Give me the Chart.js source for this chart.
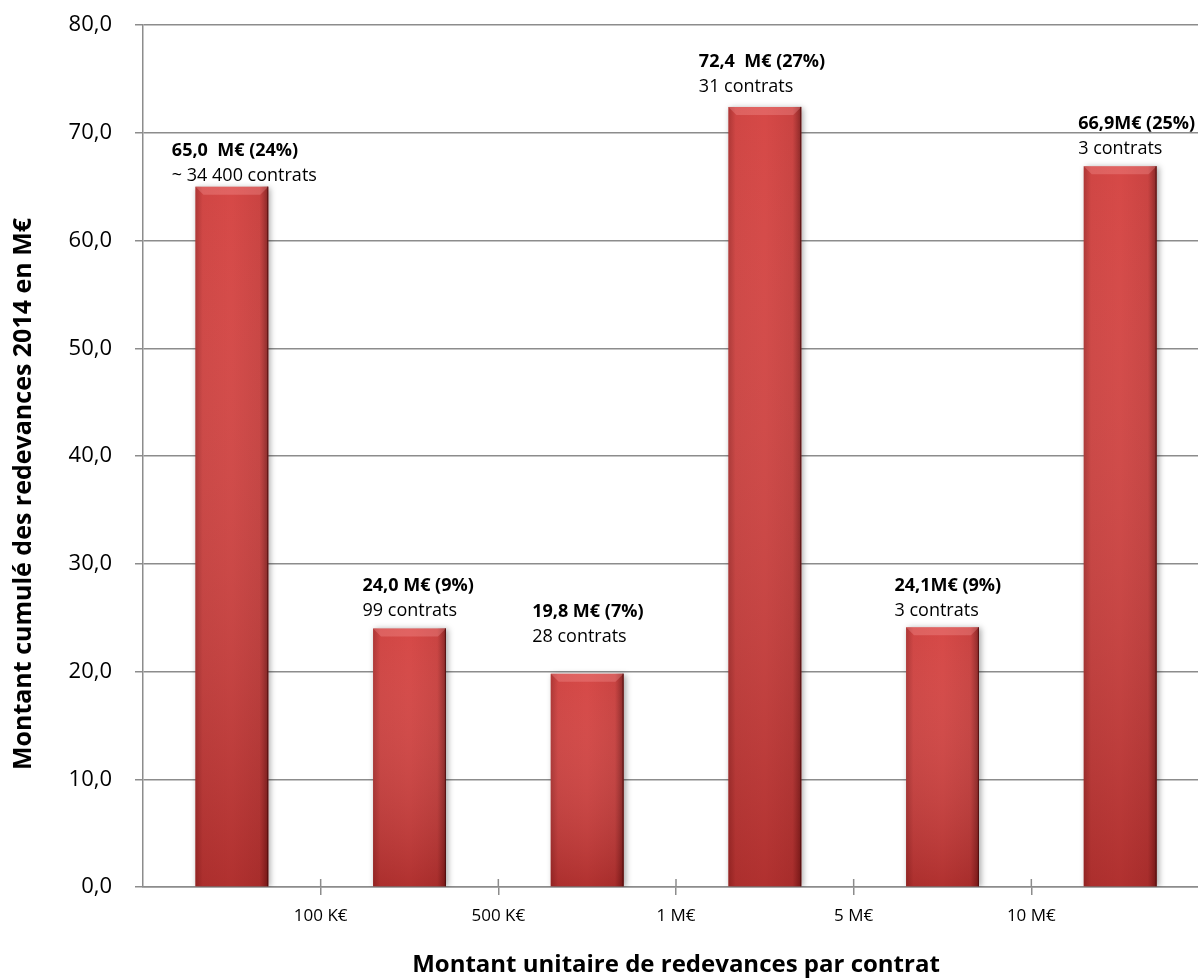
<!DOCTYPE html>
<html lang="fr">
<head>
    <meta charset="UTF-8">
    <title>Redevances 2014</title>
    <script src="https://cdn.jsdelivr.net/npm/chart.js"></script>
    <style>
body {
    margin: 0;
    padding: 0;
    background-color: #fff;
    overflow: hidden;
}

.chart-box {
    position: relative;
    width: 1220px;
    height: 980px;
}

canvas {
    display: block;
}
    </style>
</head>
<body>
    <div class="chart-box">
        <canvas id="redevancesChart" width="1220" height="980"></canvas>
    </div>

    <script>
        // Data
        const categories = ['< 100 K€', '100 K€ - 500 K€', '500 K€ - 1 M€', '1 M€ - 5 M€', '5 M€ - 10 M€', '> 10 M€'];
        const amounts = [65.0, 24.0, 19.8, 72.4, 24.1, 66.9];
        const amountLabels = ['65,0  M€ (24%)', '24,0 M€ (9%)', '19,8 M€ (7%)', '72,4  M€ (27%)', '24,1M€ (9%)', '66,9M€ (25%)'];
        const contractLabels = ['~ 34 400 contrats', '99 contrats', '28 contrats', '31 contrats', '3 contrats', '3 contrats'];
        const boundaryTicks = ['', '100 K€', '500 K€', '1 M€', '5 M€', '10 M€', ''];

        // Manual nudges of the text boxes, as placed in the original
        const labelDx = [-60, -47, -55, -66, -48, -42];
        const labelDy = [-11, -18, -37, -20, -16, -17];

        const fontFamily = "'Open Sans', sans-serif";
        const gridGrey = '#8c8c8c';

        Chart.defaults.font.family = fontFamily;
        Chart.defaults.color = '#000';

        // Shading of the bars (bevel, shadow, gradient) and the text boxes
        const barStyle = {
            id: 'barStyle',
            beforeDatasetDraw(chart) {
                const ctx = chart.ctx;
                ctx.save();
                ctx.shadowColor = 'rgba(0, 0, 0, 0.35)';
                ctx.shadowBlur = 6;
                ctx.shadowOffsetX = 2;
                ctx.shadowOffsetY = 1;
            },
            afterDatasetDraw(chart) {
                const ctx = chart.ctx;
                ctx.restore();
                const meta = chart.getDatasetMeta(0);
                meta.data.forEach((bar, i) => {
                    const left = bar.x - bar.width / 2;
                    const right = bar.x + bar.width / 2;
                    const top = bar.y;
                    const bottom = bar.base;

                    // side shading
                    const h = ctx.createLinearGradient(left, 0, right, 0);
                    h.addColorStop(0, 'rgba(90, 10, 10, 0.35)');
                    h.addColorStop(0.1, 'rgba(90, 10, 10, 0.05)');
                    h.addColorStop(0.5, 'rgba(90, 10, 10, 0)');
                    h.addColorStop(0.88, 'rgba(90, 10, 10, 0.1)');
                    h.addColorStop(1, 'rgba(60, 0, 0, 0.55)');
                    ctx.fillStyle = h;
                    ctx.fillRect(left, top, bar.width, bottom - top);

                    // darker towards the base
                    const v = ctx.createLinearGradient(0, top, 0, bottom);
                    v.addColorStop(0, 'rgba(255, 255, 255, 0.04)');
                    v.addColorStop(1, 'rgba(70, 0, 0, 0.25)');
                    ctx.fillStyle = v;
                    ctx.fillRect(left, top, bar.width, bottom - top);

                    // top bevel
                    const b = 8;
                    ctx.beginPath();
                    ctx.moveTo(left, top);
                    ctx.lineTo(right, top);
                    ctx.lineTo(right - b, top + b);
                    ctx.lineTo(left + b, top + b);
                    ctx.closePath();
                    ctx.fillStyle = 'rgba(255, 170, 170, 0.28)';
                    ctx.fill();

                    ctx.strokeStyle = 'rgba(70, 10, 10, 0.8)';
                    ctx.lineWidth = 1;
                    ctx.beginPath();
                    ctx.moveTo(right - 0.5, top);
                    ctx.lineTo(right - 0.5, bottom);
                    ctx.stroke();

                    // two-line text box
                    const tx = bar.x + labelDx[i];
                    const ty = top + labelDy[i];
                    ctx.fillStyle = '#000';
                    ctx.textAlign = 'left';
                    ctx.textBaseline = 'middle';
                    ctx.font = 'bold 18px ' + fontFamily;
                    ctx.fillText(amountLabels[i], tx, ty - 25);
                    ctx.font = '18px ' + fontFamily;
                    ctx.fillText(contractLabels[i], tx, ty);
                });
            },
            afterDraw(chart) {
                const ctx = chart.ctx;
                const x2 = chart.scales.x2;
                const area = chart.chartArea;

                // tick marks cross the category axis
                ctx.save();
                ctx.strokeStyle = gridGrey;
                ctx.lineWidth = 1.5;
                for (let k = 1; k < boundaryTicks.length - 1; k++) {
                    const px = x2.getPixelForTick(k);
                    ctx.beginPath();
                    ctx.moveTo(px, area.bottom - 8);
                    ctx.lineTo(px, area.bottom);
                    ctx.stroke();
                }

                // vertical axis title
                ctx.translate(24, 494);
                ctx.rotate(-Math.PI / 2);
                ctx.fillStyle = '#000';
                ctx.textAlign = 'center';
                ctx.textBaseline = 'middle';
                ctx.font = 'bold 25px ' + fontFamily;
                ctx.fillText('Montant cumulé des redevances 2014 en M€', 0, 0);
                ctx.restore();
            }
        };

        const ctx = document.getElementById('redevancesChart').getContext('2d');
        const redevancesChart = new Chart(ctx, {
            type: 'bar',
            data: {
                labels: categories,
                datasets: [{
                    label: 'Montant cumulé',
                    data: amounts,
                    backgroundColor: '#d4413f',
                    borderWidth: 0,
                    barPercentage: 0.41,
                    categoryPercentage: 1,
                }],
            },
            options: {
                responsive: false,
                maintainAspectRatio: false,
                animation: false,
                layout: {
                    padding: { top: 25, right: 4, bottom: 0, left: 0 },
                },
                plugins: {
                    legend: { display: false },
                    tooltip: { enabled: false },
                },
                scales: {
                    x: {
                        display: false,
                        offset: true,
                    },
                    x2: {
                        type: 'category',
                        position: 'bottom',
                        labels: boundaryTicks,
                        offset: false,
                        afterFit: (scale) => {
                            scale.height = 93;
                        },
                        ticks: {
                            autoSkip: false,
                            maxRotation: 0,
                            padding: 11,
                            font: { size: 17 },
                        },
                        grid: {
                            drawOnChartArea: false,
                            offset: false,
                            tickLength: 8,
                            lineWidth: 1.5,
                            color: (c) => (c.index === 0 || c.index === boundaryTicks.length - 1) ? 'rgba(0,0,0,0)' : gridGrey,
                        },
                        border: { color: gridGrey, width: 1.5 },
                        title: {
                            display: true,
                            text: 'Montant unitaire de redevances par contrat',
                            font: { size: 24, weight: 'bold' },
                            padding: { top: 0, bottom: 0 },
                        },
                    },
                    y: {
                        min: 0,
                        max: 80,
                        afterFit: (scale) => {
                            scale.width = 143;
                            scale.paddingTop = 0;
                            scale.paddingBottom = 0;
                        },
                        ticks: {
                            stepSize: 10,
                            padding: 23,
                            font: { size: 22 },
                            callback: (value) => value.toFixed(1).replace('.', ','),
                        },
                        grid: {
                            color: gridGrey,
                            lineWidth: 1.5,
                            tickLength: 8,
                        },
                        border: { color: gridGrey, width: 1.5 },
                    },
                },
            },
            plugins: [barStyle],
        });
    </script>
</body>
</html>
